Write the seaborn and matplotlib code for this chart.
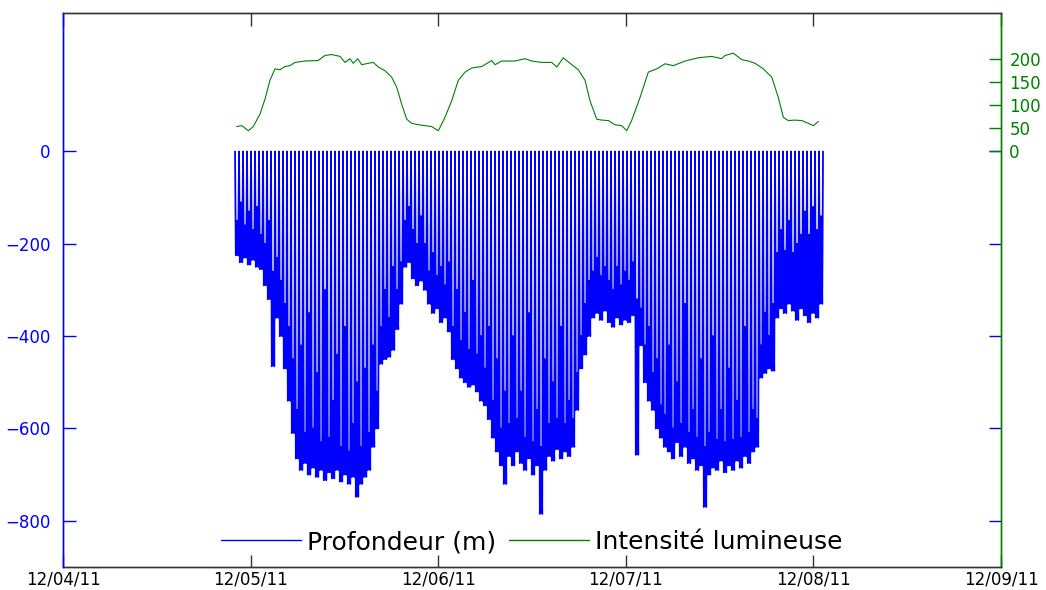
import numpy as np
import pandas as pd
import matplotlib
matplotlib.use("Agg")
import matplotlib.pyplot as plt
import seaborn as sns

# ---------------- data ----------------
date_labels = ["12/04/11", "12/05/11", "12/06/11", "12/07/11", "12/08/11", "12/09/11"]
date_ticks = [0, 1, 2, 3, 4, 5]

depth_ticks = [0, -200, -400, -600, -800]
light_ticks = [0, 50, 100, 150, 200]

dive_first_day = 0.917
dive_last_day = 4.030

# deepest point of each dive (m)
dive_max = [-225, -240, -230, -245, -235, -250, -255,
            -290, -320, -465, -360, -400, -470, -540, -610,
            -665, -690, -675, -700, -685, -705, -690, -712, -695, -708, -690, -715, -700, -720, -705,
            -748, -720, -705, -690, -640, -600,
            -460, -450, -445, -430, -385,
            -330, -250, -240, -275, -290, -280, -300, -330, -350, -340, -370, -360, -390,
            -450, -470, -490, -500, -510, -505, -520, -540, -550, -580, -620, -650, -680, -720,
            -660, -680, -650, -675, -690, -665, -700, -680, -785, -690, -660, -670, -645, -665, -650,
            -660, -640,
            -560, -470, -440, -400, -360, -350, -365, -345, -370, -380, -360, -375, -365, -370, -355,
            -657,
            -420, -500, -540, -560, -600, -620,
            -640, -650, -665, -630, -660, -640, -675, -665, -690, -680, -770, -700, -685, -690, -670,
            -695, -680, -690, -670, -685, -660, -675, -650, -640,
            -490, -480, -470, -475,
            -360, -340, -350, -330, -345, -365, -340, -355, -370, -350, -360, -330]

# shallowest point of the bottom phase of each dive (m)
dive_turn = [-150, -110, -160, -130, -170, -120, -180,
             -200, -150, -260, -230, -280, -330, -380, -450,
             -560, -420, -610, -350, -600, -480, -630, -300, -620, -540, -440, -640, -380, -650, -590,
             -500, -640, -470, -610, -420, -520,
             -380, -300, -360, -250, -300,
             -240, -150, -120, -170, -200, -140, -200, -260, -220, -270, -250, -290, -240,
             -380, -300, -410, -350, -430, -280, -440, -400, -470, -380, -540, -450, -600, -520,
             -590, -400, -580, -520, -620, -350, -630, -560, -640, -450, -590, -500, -580, -380, -590,
             -540, -580,
             -480, -400, -330, -280, -260, -230, -270, -250, -280, -300, -250, -290, -260, -280, -240,
             -320,
             -340, -420, -380, -480, -450, -550,
             -570, -420, -600, -500, -590, -330, -610, -560, -620, -450, -640, -610, -400, -625, -560,
             -630, -470, -625, -540, -620, -380, -610, -560, -580,
             -420, -350, -400, -330,
             -220, -170, -215, -150, -220, -200, -180, -130, -180, -120, -170, -140]

# light intensity (days since 12/04/11, value)
light_time = [0.926, 0.953, 0.988, 1.014, 1.050, 1.077, 1.103, 1.130, 1.157, 1.183, 1.210, 1.237,
              1.290, 1.359, 1.397, 1.432, 1.477, 1.503, 1.530, 1.547, 1.571, 1.592, 1.627, 1.654,
              1.681, 1.716, 1.752, 1.779, 1.805, 1.832, 1.859, 1.894, 1.930, 1.965, 2.001, 2.036,
              2.072, 2.107, 2.143, 2.179, 2.232, 2.285, 2.303, 2.338, 2.409, 2.463, 2.498, 2.552,
              2.605, 2.632, 2.667, 2.703, 2.747, 2.783, 2.809, 2.845, 2.872, 2.907, 2.942, 2.978,
              3.005, 3.031, 3.076, 3.120, 3.165, 3.209, 3.253, 3.316, 3.386, 3.458, 3.511, 3.529,
              3.573, 3.618, 3.653, 3.689, 3.733, 3.778, 3.813, 3.840, 3.866, 3.902, 3.938, 3.973,
              4.000, 4.026]
light_value = [54, 56, 45, 54, 81, 114, 154, 179, 177, 184, 186, 193,
               196, 197, 208, 210, 206, 193, 201, 191, 201, 188, 191, 193,
               183, 175, 161, 139, 103, 70, 61, 58, 56, 54, 45, 74,
               110, 154, 172, 181, 184, 197, 188, 196, 196, 201, 196, 193,
               193, 183, 203, 191, 177, 154, 110, 70, 68, 67, 58, 56,
               45, 67, 117, 172, 179, 190, 186, 196, 203, 206, 201, 208,
               213, 199, 196, 191, 179, 161, 117, 74, 67, 68, 67, 61,
               56, 65]

# ---------------- build dive profile ----------------
n = len(dive_max)
starts = np.linspace(dive_first_day, dive_last_day, n)
step = starts[1] - starts[0]
pt, pd_ = [], []
for s, dmax, dturn in zip(starts, dive_max, dive_turn):
    pt += [s, s + 0.2 * step, s + 0.5 * step, s + 0.8 * step]
    pd_ += [0, dmax, dturn, dmax]
pt.append(starts[-1] + step)
pd_.append(0)
depth_df = pd.DataFrame({"t": pt, "depth": pd_})
light_df = pd.DataFrame({"t": light_time, "light": light_value})

# ---------------- plot ----------------
sns.set_style("white")
plt.rcParams["font.family"] = ["DejaVu Sans"]

BLUE = (0, 0, 1)
GREEN = (0, 0.5, 0)
DARK = "#333333"

fig = plt.figure(figsize=(10.46, 5.90), dpi=100)
ax = fig.add_axes([63 / 1046, 1 - 567 / 590, (1001 - 63) / 1046, (567 - 13) / 590])

sns.lineplot(data=depth_df, x="t", y="depth", ax=ax, color=BLUE, lw=1.3,
             estimator=None, sort=False, label="Profondeur (m)", legend=False)
ax.set_xlim(0, 5)
ax.set_ylim(-900, 300)
ax.set_xticks(date_ticks)
ax.set_xticklabels(date_labels)
ax.set_yticks(depth_ticks)
ax.set_xlabel("")
ax.set_ylabel("")

ax2 = ax.twinx()
sns.lineplot(data=light_df, x="t", y="light", ax=ax2, color=GREEN, lw=0.8,
             estimator=None, sort=False, label="Intensité lumineuse", legend=False)
ax2.set_ylim(-900, 300)
ax2.set_yticks(light_ticks)
ax2.set_ylabel("")
ax2.set_xlim(0, 5)

# ticks
ax.tick_params(axis="y", direction="in", length=9, width=1, colors=BLUE,
               labelsize=12, pad=9, left=True, right=True, labelright=False)
ax.tick_params(axis="x", direction="in", length=9, width=1, color=DARK,
               labelcolor="black", labelsize=12, pad=2.5, top=True, bottom=True)
ax2.tick_params(axis="y", direction="in", length=9, width=1, colors=GREEN,
                labelsize=12, pad=6, right=True, left=False)

for a in (ax, ax2):
    a.spines["left"].set_color(BLUE)
    a.spines["right"].set_color(GREEN)
    a.spines["top"].set_color(DARK)
    a.spines["bottom"].set_color(DARK)
    for sp in a.spines.values():
        sp.set_linewidth(1.0)

# legend
h1, l1 = ax.get_legend_handles_labels()
h2, l2 = ax2.get_legend_handles_labels()
leg = ax.legend(h1 + h2, l1 + l2, loc="center", bbox_to_anchor=(0.5, 0.045),
                ncol=2, frameon=False, fontsize=18, handlelength=3.2,
                handletextpad=0.25, columnspacing=0.5, borderaxespad=0,
                labelcolor="black")
for line in leg.get_lines():
    line.set_linewidth(1.0)

fig.savefig("out.png", dpi=100)
